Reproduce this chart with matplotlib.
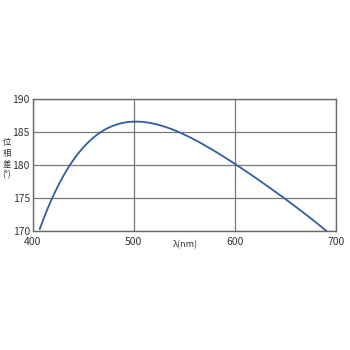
import numpy as np
import matplotlib
matplotlib.use("Agg")
from matplotlib import pyplot as plt

# wavelength (nm) and phase difference (deg)
wavelength = [407, 418, 436, 455, 470, 478, 490, 500, 510, 525, 545, 570, 600, 625, 649, 670, 690]
phase = [170, 175, 180, 183, 185, 186.1, 186.5, 186.6, 186.5, 186.1, 185, 183.1, 180, 177.5, 175, 172.6, 170]
xticks = [400, 500, 600, 700]
yticks = [170, 175, 180, 185, 190]
ylabel_chars = ["位", "相", "差", "(°)"]

plt.rcParams["font.family"] = ["Noto Sans CJK JP", "DejaVu Sans"]

fig = plt.figure(figsize=(3.5, 3.5), dpi=100)
ax = fig.add_axes([0.0934, 0.34, 0.867, 0.377])

# smooth the read points with a polynomial fit through them
coef = np.polyfit(wavelength, phase, 5)
xs = np.linspace(wavelength[0], wavelength[-1], 300)
ax.plot(xs, np.polyval(coef, xs), color="#2f5f9e", lw=1.3, zorder=3)

ax.set_xlim(400, 700)
ax.set_ylim(170, 190)
ax.set_xticks(xticks)
ax.set_yticks(yticks)
ax.grid(True, color="#7a7a7a", lw=0.9)
for s in ax.spines.values():
    s.set_color("#6a6a6a")
    s.set_linewidth(1.0)
ax.tick_params(length=0, labelsize=7.5, colors="#333333")
ax.tick_params(axis="y", pad=2)
ax.tick_params(axis="x", pad=4)

# stacked vertical y label, one glyph per line
for i, ch in enumerate(ylabel_chars):
    fig.text(7 / 350, 1 - (143 + i * 10.5) / 350, ch, fontsize=6, color="#333333",
             ha="center", va="center")
fig.text(185 / 350, 1 - 245 / 350, "λ(nm)", fontsize=6.5, color="#333333",
         ha="center", va="center")

fig.savefig("out.png", dpi=100, facecolor="white")
